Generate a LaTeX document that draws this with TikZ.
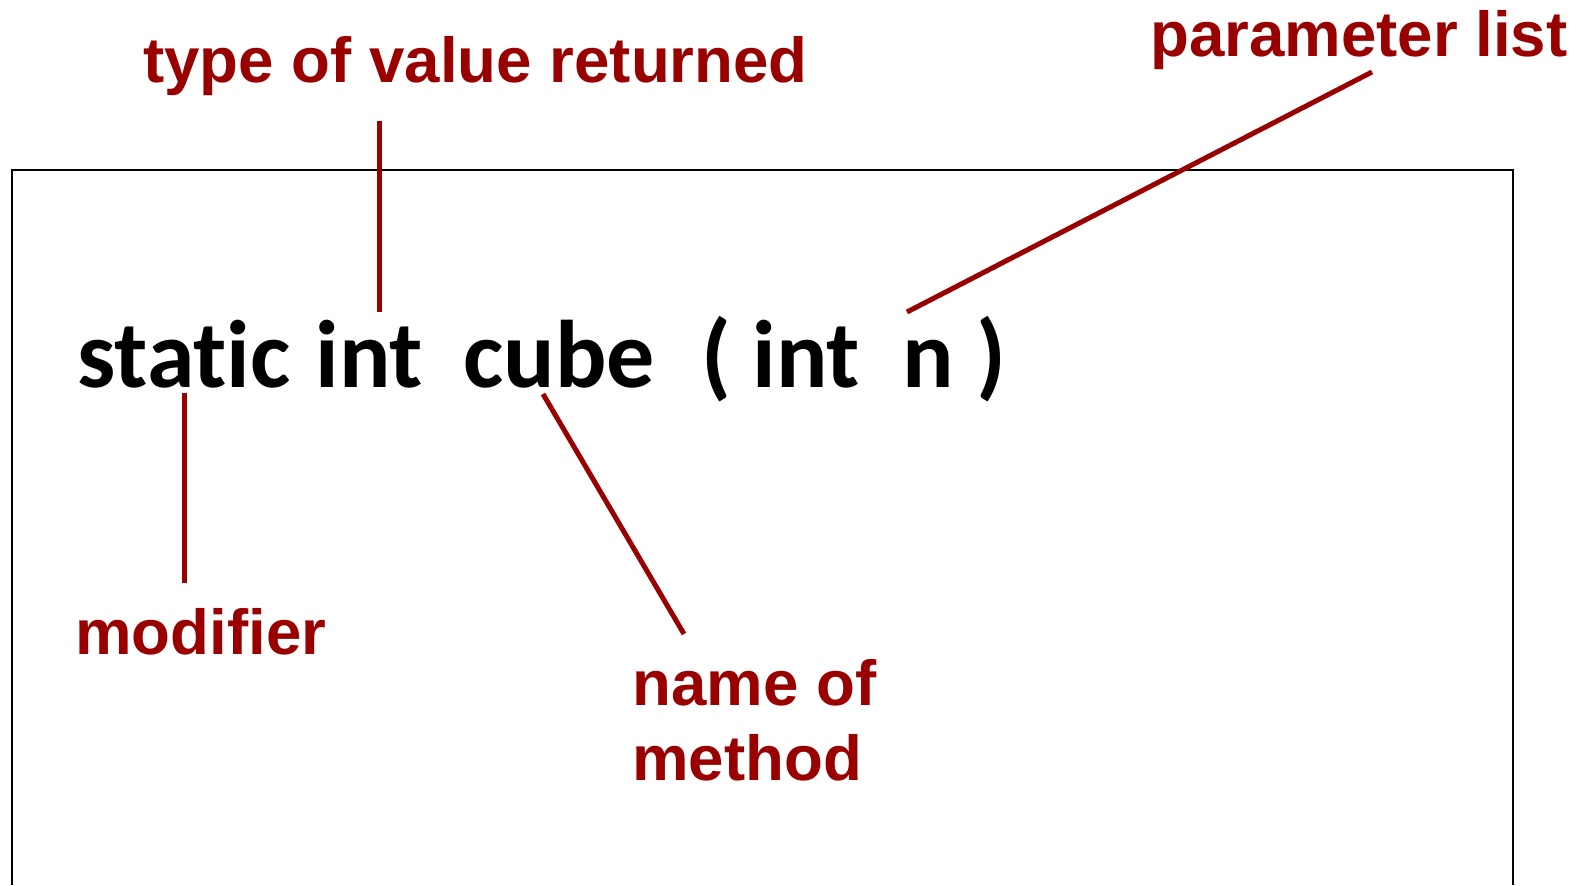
\documentclass[tikz,border=0pt]{standalone}
\usepackage{fontspec}
\usepackage{tikz}
\usetikzlibrary{calc,positioning}
\usepackage{xcolor}
\newfontfamily\arialfont{Liberation Sans}
\newfontfamily\calibrifont[Ligatures=CommonOff]{Carlito}
\definecolor{labelColor}{RGB}{153,0,0}
\newcommand{\labelsize}{\fontsize{31.8}{37.5}\selectfont}
\newcommand{\codesize}{\fontsize{48}{58}\selectfont}

\begin{document}
\begin{tikzpicture}[
        x=0.5pt, y=-0.5pt,
        lbl/.style={anchor=base west, inner sep=0pt, text=labelColor, font=\arialfont\bfseries\labelsize, align=left},
        code/.style={anchor=base west, inner sep=0pt, font=\calibrifont\bfseries\codesize},
        lead/.style={labelColor, line width=2.5pt},
        frame/.style={black, line width=1pt}
      ]
      \useasboundingbox (0,0) rectangle (1577,885);
      \draw[frame] (12,885) |- (1513,170) -- (1513,885);

      % the method header
      \node[code] (static) at (77,387) {static};
      \node[code] (rtype) at (315,387) {int};
      \node[code] (cube) at (463,387) {cube};
      \node[code] (lpar) at (701,387) {(};
      \node[code] (ptype) at (752,387) {int};
      \node[code] (pname) at (902,387) {n};
      \node[code] (rpar) at (976,387) {)};

      % labels
      \node[lbl] (typelbl) at (143,82) {type of value returned};
      \node[lbl] (paramlbl) at (1150,56) {parameter list};
      \node[lbl] (modlbl) at (75,654) {modifier};
      \node[lbl] (namelbl) at (632,780) {name of\\method};

      % leader lines
      \coordinate (typetop) at (379,121);
      \coordinate (typebot) at (379,312);
      \coordinate (modtop) at (184,393);
      \coordinate (modbot) at (184,583);
      \coordinate (nametop) at (543,394);
      \coordinate (namebot) at (684,634);
      \coordinate (paramtop) at (1372,72);
      \coordinate (parambot) at (907,312);

      \draw[lead] (typetop) -- (typebot);
      \draw[lead] (modtop) -- (modbot);
      \draw[lead] (nametop) -- (namebot);
      \draw[lead] (paramtop) -- (parambot);
    \end{tikzpicture}
\end{document}
